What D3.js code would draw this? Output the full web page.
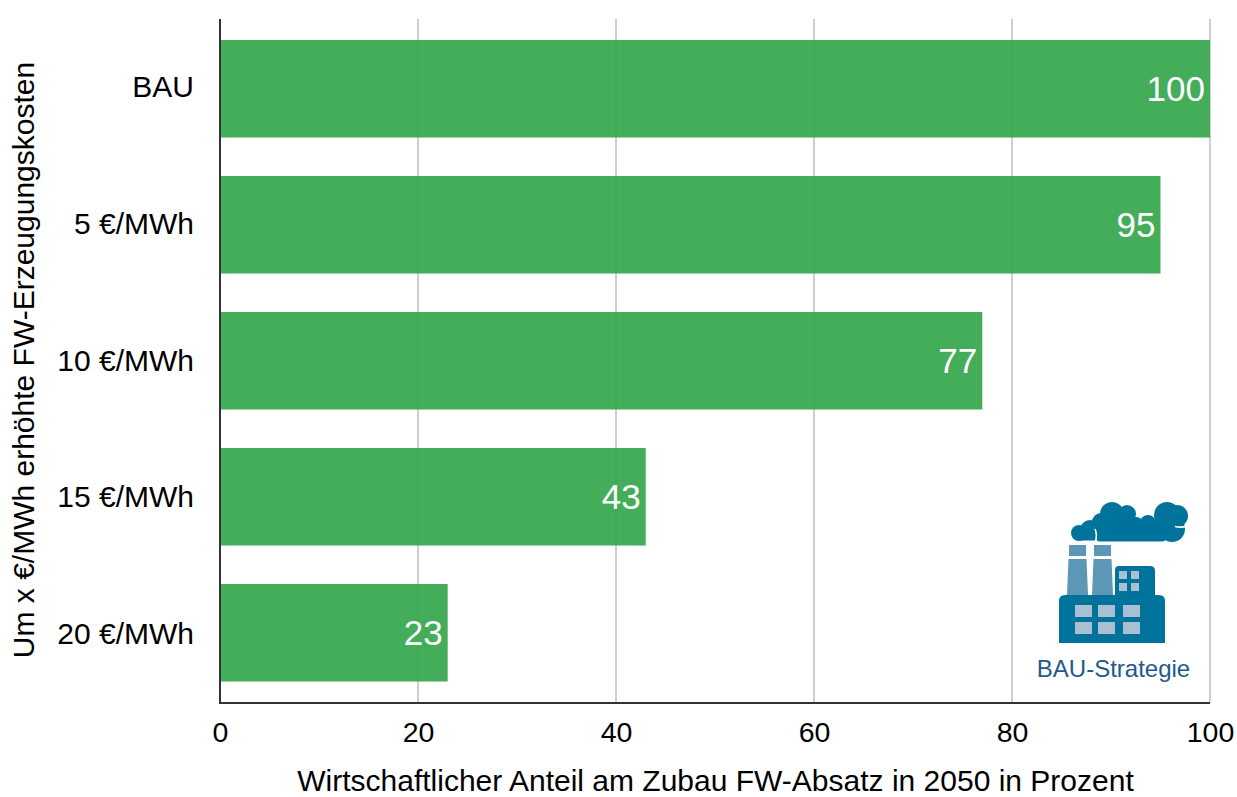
<!DOCTYPE html>
<html lang="de">
<head>
<meta charset="utf-8">
<title>Wirtschaftlicher Anteil am Zubau FW-Absatz</title>
<script src="https://cdn.jsdelivr.net/npm/d3@7/dist/d3.min.js"></script>
<style>
  html, body { margin: 0; padding: 0; background: #fff; }
  svg { display: block; }
  text { font-family: "Liberation Sans", Arial, sans-serif; }
</style>
</head>
<body>
<div id="chart"></div>
<script>
// Chart data
const categories = ["BAU", "5 €/MWh", "10 €/MWh", "15 €/MWh", "20 €/MWh"];
const shares = [100, 95, 77, 43, 23];
const xTicks = [0, 20, 40, 60, 80, 100];
const xTitle = "Wirtschaftlicher Anteil am Zubau FW-Absatz in 2050 in Prozent";
const yTitle = "Um x €/MWh erhöhte FW-Erzeugungskosten";
const badgeLabel = "BAU-Strategie";

const width = 1237, height = 797;
const plot = { left: 220, right: 1210, top: 19, bottom: 703 };

const svg = d3.select("#chart").append("svg")
  .attr("width", width).attr("height", height)
  .attr("viewBox", [0, 0, width, height]);

const x = d3.scaleLinear().domain([0, 100]).range([plot.left, plot.right]);
const y = d3.scaleBand().domain(categories).range([20.75, 700.75]).paddingInner(0.283).paddingOuter(0.1415);
// Category labels are spread over the full axis height
const yLabels = d3.scaleBand().domain(categories).range([plot.top, plot.bottom]);

// Vertical grid lines behind the bars
svg.append("g").selectAll("line")
  .data(xTicks.slice(1))
  .join("line")
  .attr("x1", d => x(d)).attr("x2", d => x(d))
  .attr("y1", plot.top).attr("y2", plot.bottom)
  .attr("stroke", "#bfbfbf").attr("stroke-width", 1.5);

// Bars
svg.append("g").selectAll("rect")
  .data(categories)
  .join("rect")
  .attr("x", x(0))
  .attr("y", d => y(d))
  .attr("width", (d, i) => x(shares[i]) - x(0))
  .attr("height", y.bandwidth())
  .attr("fill", "#2fa448")
  .attr("fill-opacity", 0.9);

// Value labels inside the bar ends
svg.append("g").selectAll("text")
  .data(categories)
  .join("text")
  .attr("x", (d, i) => x(shares[i]) - 5)
  .attr("y", d => y(d) + y.bandwidth() / 2)
  .attr("dy", "0.35em")
  .attr("text-anchor", "end")
  .attr("font-size", 35)
  .attr("fill", "#fff")
  .text((d, i) => shares[i]);

// Axes
const xAxis = d3.axisBottom(x).tickValues(xTicks).tickSize(0).tickPadding(19);
const gx = svg.append("g").attr("transform", `translate(0,${plot.bottom})`).call(xAxis);
gx.select(".domain").remove();
gx.selectAll("text").attr("font-size", 28.5).attr("fill", "#000")
  .style("font-family", '"Liberation Sans", Arial, sans-serif');

const yAxis = d3.axisLeft(yLabels).tickSize(0).tickPadding(26);
const gy = svg.append("g").attr("transform", `translate(${plot.left},0)`).call(yAxis);
gy.select(".domain").remove();
gy.selectAll("text").attr("font-size", 30).attr("fill", "#000")
  .style("font-family", '"Liberation Sans", Arial, sans-serif');

svg.append("path")
  .attr("d", `M${plot.left},${plot.top}V${plot.bottom}H${plot.right}`)
  .attr("fill", "none").attr("stroke", "#333").attr("stroke-width", 2);

// Axis titles
svg.append("text")
  .attr("x", 715.5).attr("y", 790.5)
  .attr("text-anchor", "middle").attr("font-size", 30).attr("fill", "#000")
  .text(xTitle);

svg.append("text")
  .attr("transform", "translate(34,360) rotate(-90)")
  .attr("text-anchor", "middle").attr("font-size", 30).attr("fill", "#000")
  .text(yTitle);

// Factory badge in the lower right corner
const badge = svg.append("g");
const teal = "#00739c", tealLight = "#5c97b5", pane = "#a9c0d3";

// Smoke cloud built from overlapping puffs
const puffs = [
  [1079, 533, 8], [1090, 530, 10], [1101, 522, 9], [1112, 514, 12], [1127, 514, 9],
  [1136, 525, 8], [1148, 523, 8], [1167, 515, 13], [1177, 516, 11], [1172, 529, 13]
];
badge.append("g").selectAll("circle").data(puffs).join("circle")
  .attr("cx", d => d[0]).attr("cy", d => d[1]).attr("r", d => d[2]).attr("fill", teal);
badge.append("rect").attr("x", 1079).attr("y", 530).attr("width", 17).attr("height", 10.5).attr("fill", teal);
badge.append("rect").attr("x", 1096).attr("y", 520).attr("width", 70).attr("height", 21.5).attr("rx", 4).attr("fill", teal);
badge.append("path")
  .attr("d", "M1175,526.5Q1181,528 1188,526 M1095,529Q1097.5,535 1095.5,541")
  .attr("fill", "none").attr("stroke", "#fff").attr("stroke-width", 1.6);

// Chimneys
badge.append("path").attr("fill", tealLight)
  .attr("d", "M1069,545H1086V556H1069Z M1094,545H1111V556H1094Z M1068.5,559H1086.5L1088,595H1067Z M1093.5,559H1111.5L1113,595H1092Z");

// Annex and main hall
badge.append("path").attr("fill", teal)
  .attr("d", "M1119,566H1150Q1155,566 1155,571V596H1115V570Q1115,566 1119,566Z");
badge.append("path").attr("fill", teal)
  .attr("d", "M1065,595H1159Q1165,595 1165,601V643H1059V601Q1059,595 1065,595Z");

// Window panes
const panes = [
  [1119, 571, 8, 8], [1131, 571, 8, 8], [1119, 583, 8, 8], [1131, 583, 8, 8],
  [1075, 605, 17, 12], [1098, 605, 17, 12], [1123, 605, 17, 12],
  [1075, 622, 17, 12], [1098, 622, 17, 12], [1123, 622, 17, 12]
];
badge.append("g").selectAll("rect").data(panes).join("rect")
  .attr("x", d => d[0]).attr("y", d => d[1]).attr("width", d => d[2]).attr("height", d => d[3])
  .attr("fill", pane);

badge.append("text")
  .attr("x", 1113.5).attr("y", 677)
  .attr("text-anchor", "middle").attr("font-size", 24).attr("fill", "#1f5a8c")
  .text(badgeLabel);
</script>
</body>
</html>
